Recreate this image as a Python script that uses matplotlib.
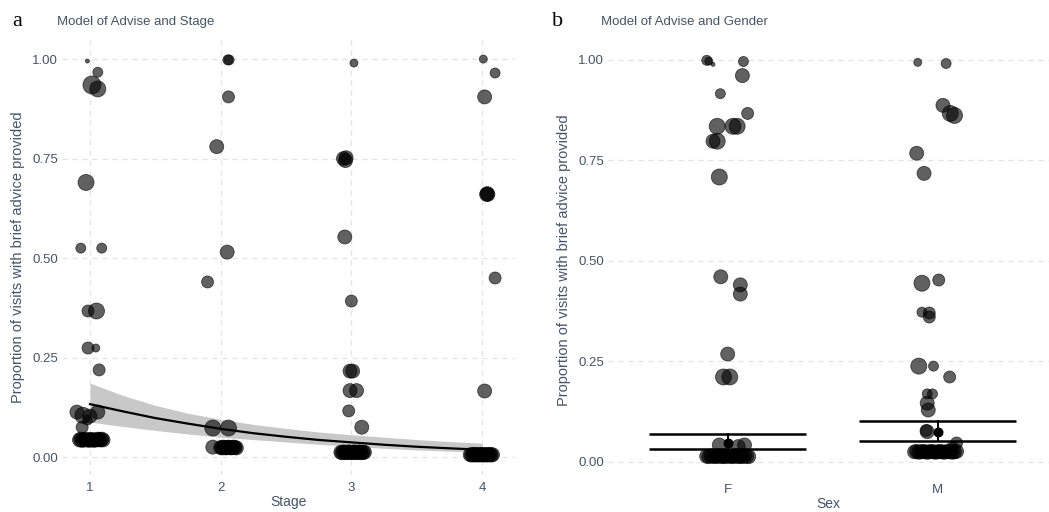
import numpy as np
import matplotlib
matplotlib.use("Agg")
import matplotlib.pyplot as plt

plt.rcParams['font.family'] = ['Liberation Sans', 'DejaVu Sans']

# panel a: visits by stage (jittered x, proportion, point radius in px)
stage_x = [0.98, 1.06, 1.015, 1.06, 0.97, 0.93, 1.09, 0.985, 1.05, 0.985, 1.045, 1.07,
           0.90, 0.946, 1.0, 1.06, 0.94, 0.98,
           0.92, 0.93, 0.94, 0.95, 0.96, 0.97, 0.99, 1.00, 1.01, 1.02, 1.03, 1.05, 1.06, 1.07, 1.08, 1.09, 1.10,
           2.055, 2.065, 2.06, 1.97, 2.05, 1.90, 1.94, 2.06, 1.94,
           2.00, 2.01, 2.02, 2.03, 2.04, 2.05, 2.06, 2.07, 2.08, 2.09, 2.10, 2.11, 2.12,
           3.02, 2.94, 2.96, 2.955, 2.95, 3.0, 2.99, 3.01, 2.99, 3.04, 2.98, 3.08,
           2.92, 2.93, 2.94, 2.95, 2.96, 2.97, 2.98, 2.99, 3.00, 3.01, 3.02, 3.03, 3.04, 3.05, 3.06, 3.07, 3.08, 3.09, 3.10,
           4.01, 4.10, 4.02, 4.035, 4.045, 4.04, 4.10, 4.02,
           3.91, 3.92, 3.93, 3.94, 3.95, 3.96, 3.97, 3.98, 3.99, 4.00, 4.01, 4.02, 4.03, 4.04, 4.05, 4.06, 4.07, 4.08]
stage_y = [0.995, 0.967, 0.935, 0.925, 0.69, 0.525, 0.525, 0.367, 0.367, 0.274, 0.274, 0.219,
           0.113, 0.105, 0.103, 0.113, 0.075, 0.093,
           0.043, 0.045, 0.042, 0.044, 0.043, 0.045, 0.042, 0.044, 0.043, 0.044, 0.042, 0.043, 0.045, 0.044, 0.043, 0.045, 0.043,
           0.998, 0.998, 0.905, 0.78, 0.515, 0.44, 0.073, 0.073, 0.025,
           0.024, 0.023, 0.025, 0.024, 0.023, 0.024, 0.025, 0.024, 0.023, 0.024, 0.025, 0.024, 0.023,
           0.99, 0.75, 0.752, 0.745, 0.553, 0.392, 0.216, 0.216, 0.167, 0.167, 0.116, 0.075,
           0.012, 0.011, 0.013, 0.012, 0.011, 0.012, 0.013, 0.012, 0.011, 0.012, 0.013, 0.012, 0.011, 0.012,
           0.013, 0.012, 0.011, 0.012, 0.012,
           1.0, 0.965, 0.905, 0.66, 0.66, 0.662, 0.45, 0.166,
           0.006, 0.005, 0.006, 0.007, 0.005, 0.006, 0.006, 0.005, 0.006, 0.007, 0.005, 0.006, 0.006,
           0.005, 0.006, 0.007, 0.005, 0.006]
stage_r = [2, 5, 9, 8, 8, 5, 5, 6, 8, 6, 4, 6,
           7, 8, 7, 7, 6, 5,
           7, 7, 7, 7, 7, 7, 7, 7, 7, 7, 7, 7, 7, 7, 7, 7, 7,
           5, 5, 6, 7, 7, 6, 8, 8, 7,
           7, 7, 7, 7, 7, 7, 7, 7, 7, 7, 7, 7, 7,
           4, 7, 7, 7, 7, 6, 7, 7, 7, 7, 6, 7,
           7, 7, 7, 7, 7, 7, 7, 7, 7, 7, 7, 7, 7, 7, 7, 7, 7, 7, 7,
           4, 5, 7, 7, 7, 7, 6, 7,
           7, 7, 7, 7, 7, 7, 7, 7, 7, 7, 7, 7, 7, 7, 7, 7, 7, 7]

# fitted curve and confidence band for panel a
fit_x = [1.0, 1.25, 1.5, 1.75, 2.0, 2.25, 2.5, 2.75, 3.0, 3.25, 3.5, 3.75, 4.0]
fit_y = [0.133, 0.115, 0.098, 0.084, 0.071, 0.060, 0.051, 0.043, 0.037, 0.031, 0.026, 0.022, 0.0185]
fit_lo = [0.088, 0.077, 0.067, 0.058, 0.050, 0.044, 0.038, 0.032, 0.027, 0.022, 0.018, 0.015, 0.012]
fit_hi = [0.186, 0.155, 0.130, 0.110, 0.095, 0.082, 0.072, 0.063, 0.056, 0.050, 0.044, 0.039, 0.035]

# panel b: visits by sex (F = 1, M = 2)
sex_x = [0.90, 0.91, 0.93, 1.075, 1.07, 0.965, 1.095, 0.95, 1.025, 1.045, 0.93, 0.95, 0.96,
         0.967, 1.06, 1.06, 1.0, 0.98, 1.01, 0.96, 1.08, 1.05,
         0.90, 0.91, 0.92, 0.93, 0.94, 0.95, 0.96, 0.97, 0.98, 0.99, 1.00, 1.01, 1.02, 1.03, 1.04, 1.05,
         1.06, 1.07, 1.08, 1.09, 1.10,
         1.905, 2.04, 2.025, 2.06, 2.08, 1.90, 1.935, 1.925, 2.005, 1.925, 1.96, 1.96,
         1.91, 1.98, 2.057, 1.95, 1.975, 1.95, 1.955, 1.95, 1.945, 2.09, 2.07,
         1.89, 1.90, 1.91, 1.92, 1.93, 1.94, 1.95, 1.96, 1.97, 1.98, 1.99, 2.00, 2.01, 2.02, 2.03, 2.04,
         2.05, 2.06, 2.07, 2.08, 2.09]
sex_y = [0.998, 0.996, 0.988, 0.995, 0.96, 0.915, 0.866, 0.834, 0.834, 0.834, 0.797, 0.797, 0.708,
         0.46, 0.44, 0.417, 0.268, 0.211, 0.211, 0.042, 0.042, 0.038,
         0.014, 0.013, 0.015, 0.014, 0.013, 0.014, 0.015, 0.013, 0.014, 0.013, 0.015, 0.014, 0.013,
         0.014, 0.015, 0.013, 0.014, 0.013, 0.015, 0.014, 0.013,
         0.993, 0.99, 0.886, 0.866, 0.861, 0.767, 0.717, 0.444, 0.452, 0.372, 0.37, 0.36,
         0.238, 0.238, 0.211, 0.169, 0.169, 0.146, 0.129, 0.075, 0.078, 0.047, 0.035,
         0.025, 0.026, 0.024, 0.025, 0.026, 0.025, 0.024, 0.025, 0.026, 0.025, 0.024, 0.025, 0.026,
         0.025, 0.024, 0.025, 0.026, 0.025, 0.024, 0.025, 0.026]
sex_r = [5, 4, 2, 5, 7, 5, 6, 8, 8, 8, 7, 8, 8,
         7, 7, 7, 7, 8, 8, 7, 7, 7,
         7, 7, 7, 7, 7, 7, 7, 7, 7, 7, 7, 7, 7, 7, 7, 7, 7, 7, 7, 7, 7,
         4, 5, 7, 8, 8, 7, 7, 8, 6, 5, 6, 6,
         8, 5, 6, 5, 5, 7, 7, 7, 6, 6, 6,
         7, 7, 7, 7, 7, 7, 7, 7, 7, 7, 7, 7, 7, 7, 7, 7, 7, 7, 7, 7, 7]

sex_labels = ['F', 'M']
sex_mean = [0.048, 0.074]
sex_lo = [0.032, 0.052]
sex_hi = [0.070, 0.102]

txt = '#44546a'
grid = '#e3e3e3'

fig = plt.figure(figsize=(10.49, 5.12), dpi=100)

def px_size(r):
    return (np.array(r) * 2 * 0.72) ** 2

def style(ax, vgrid):
    for s in ax.spines.values():
        s.set_visible(False)
    ax.tick_params(length=0, colors=txt, labelsize=9.5)
    ax.grid(axis='y', color=grid, linestyle=(0, (4, 4)), linewidth=0.9)
    if vgrid:
        ax.grid(axis='x', color=grid, linestyle=(0, (4, 4)), linewidth=0.9)
    ax.set_axisbelow(True)
    ax.set_yticks([0, 0.25, 0.5, 0.75, 1.0])
    ax.set_yticklabels(['0.00', '0.25', '0.50', '0.75', '1.00'])
    ax.set_ylabel('Proportion of visits with brief advice provided', color=txt, fontsize=10.5, labelpad=5)

# panel a
ax1 = fig.add_axes([0.0591, 0.0723, 0.4318, 0.8496])
style(ax1, True)
ax1.fill_between(fit_x, fit_lo, fit_hi, color='#c8c8c8', linewidth=0, zorder=1)
ax1.scatter(stage_x, stage_y, s=px_size(stage_r), color='black', alpha=0.62,
            edgecolors='black', linewidths=0.6, zorder=2)
ax1.plot(fit_x, fit_y, color='black', linewidth=1.6, zorder=3)
ax1.set_xlim(0.786, 4.252)
ax1.set_ylim(-0.045, 1.048)
ax1.set_xticks([1, 2, 3, 4])
ax1.tick_params(axis='x', pad=5)
ax1.tick_params(axis='y', pad=3)
ax1.set_xlabel('Stage', color=txt, fontsize=10, labelpad=1)

# panel b
ax2 = fig.add_axes([0.5796, 0.0625, 0.4204, 0.859])
style(ax2, False)
ax2.scatter(sex_x, sex_y, s=px_size(sex_r), color='black', alpha=0.62,
            edgecolors='black', linewidths=0.6, zorder=2)
xpos = np.arange(1, len(sex_labels) + 1)
for xi, m, lo, hi in zip(xpos, sex_mean, sex_lo, sex_hi):
    ax2.plot([xi, xi], [lo, hi], color='black', linewidth=1.4, zorder=3)
    ax2.hlines([lo, hi], xi - 0.375, xi + 0.375, color='black', linewidth=1.8, zorder=3)
ax2.scatter(xpos, sex_mean, s=38, color='black', zorder=4)
ax2.set_xlim(0.43, 2.53)
ax2.set_ylim(-0.045, 1.048)
ax2.set_xticks(xpos)
ax2.set_xticklabels(sex_labels)
ax2.tick_params(axis='x', pad=3)
ax2.tick_params(axis='y', pad=3)
ax2.set_xlabel('Sex', color=txt, fontsize=10, labelpad=0.5)

fig.text(0.0115, 0.958, 'a', family=['Liberation Serif', 'DejaVu Serif'], fontsize=16, va='center')
fig.text(0.0543, 0.958, 'Model of Advise and Stage', color=txt, fontsize=9.5, va='center')
fig.text(0.526, 0.958, 'b', family=['Liberation Serif', 'DejaVu Serif'], fontsize=16, va='center')
fig.text(0.5725, 0.958, 'Model of Advise and Gender', color=txt, fontsize=9.5, va='center')

fig.savefig('out.png', dpi=100)
